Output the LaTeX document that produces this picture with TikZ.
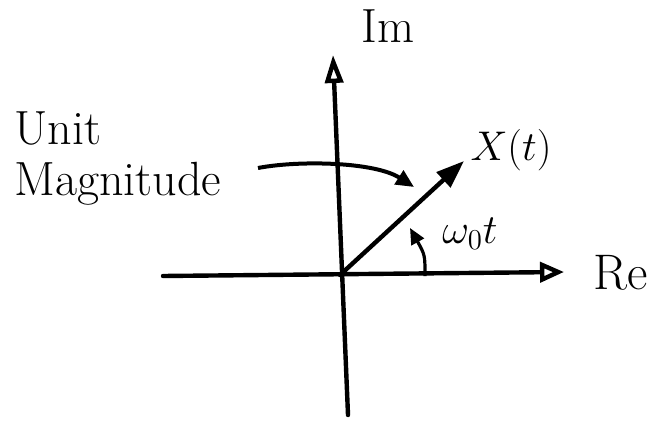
\documentclass[tikz,border=0pt]{standalone}
\usepackage{tikz}
\usetikzlibrary{arrows.meta}

\begin{document}
\begin{tikzpicture}[x=0.5pt,y=-0.5pt,
  axis/.style={black, line width=2.2pt, line cap=round},
  lbl/.style={inner sep=0pt, font=\fontsize{20}{23}\selectfont},
  biglbl/.style={inner sep=0pt, font=\fontsize{24}{26}\selectfont}]
\useasboundingbox (0,0) rectangle (652,438);
\coordinate (origin) at (340,275);
\coordinate (imtop) at (333,55);
\coordinate (imbot) at (348,415);
\coordinate (releft) at (163,276);
\coordinate (retip) at (564,272);
\coordinate (xtip) at (464,161);
\coordinate (magstart) at (258,168);
\coordinate (magend) at (414,187);
\coordinate (angstart) at (425,276);
\coordinate (angend) at (410,228);
\node[biglbl] (imlabel) at (388,26) {Im};
\node[biglbl, font=\fontsize{25}{27}\selectfont] (relabel) at (621,273) {Re};
\node[lbl] (xlabel) at (511,150) {$X(t)$};
\node[lbl, font=\fontsize{22}{24}\selectfont] (wlabel) at (470,234) {$\omega_0 t$};
\node[biglbl, anchor=base west] (unitlabel) at (14,145) {Unit};
\node[biglbl, anchor=base west] (maglabel) at (14,196) {Magnitude};
\draw[axis, -{Triangle[open, length=14pt, width=9pt]}] (imbot) -- (imtop);
\draw[axis, -{Triangle[open, length=12pt, width=10pt]}] (releft) -- (retip);
\draw[axis, -{Triangle[length=14pt, width=10pt]}] (origin) -- (xtip);
\draw[black, line width=2pt, -{Triangle[length=9pt, width=8pt]}] (magstart) .. controls (300,160) and (375,162) .. (magend);
\draw[black, line width=1.6pt, -{Triangle[length=8pt, width=7pt]}] (angstart) .. controls (425,255) .. (angend);
\end{tikzpicture}
\end{document}
